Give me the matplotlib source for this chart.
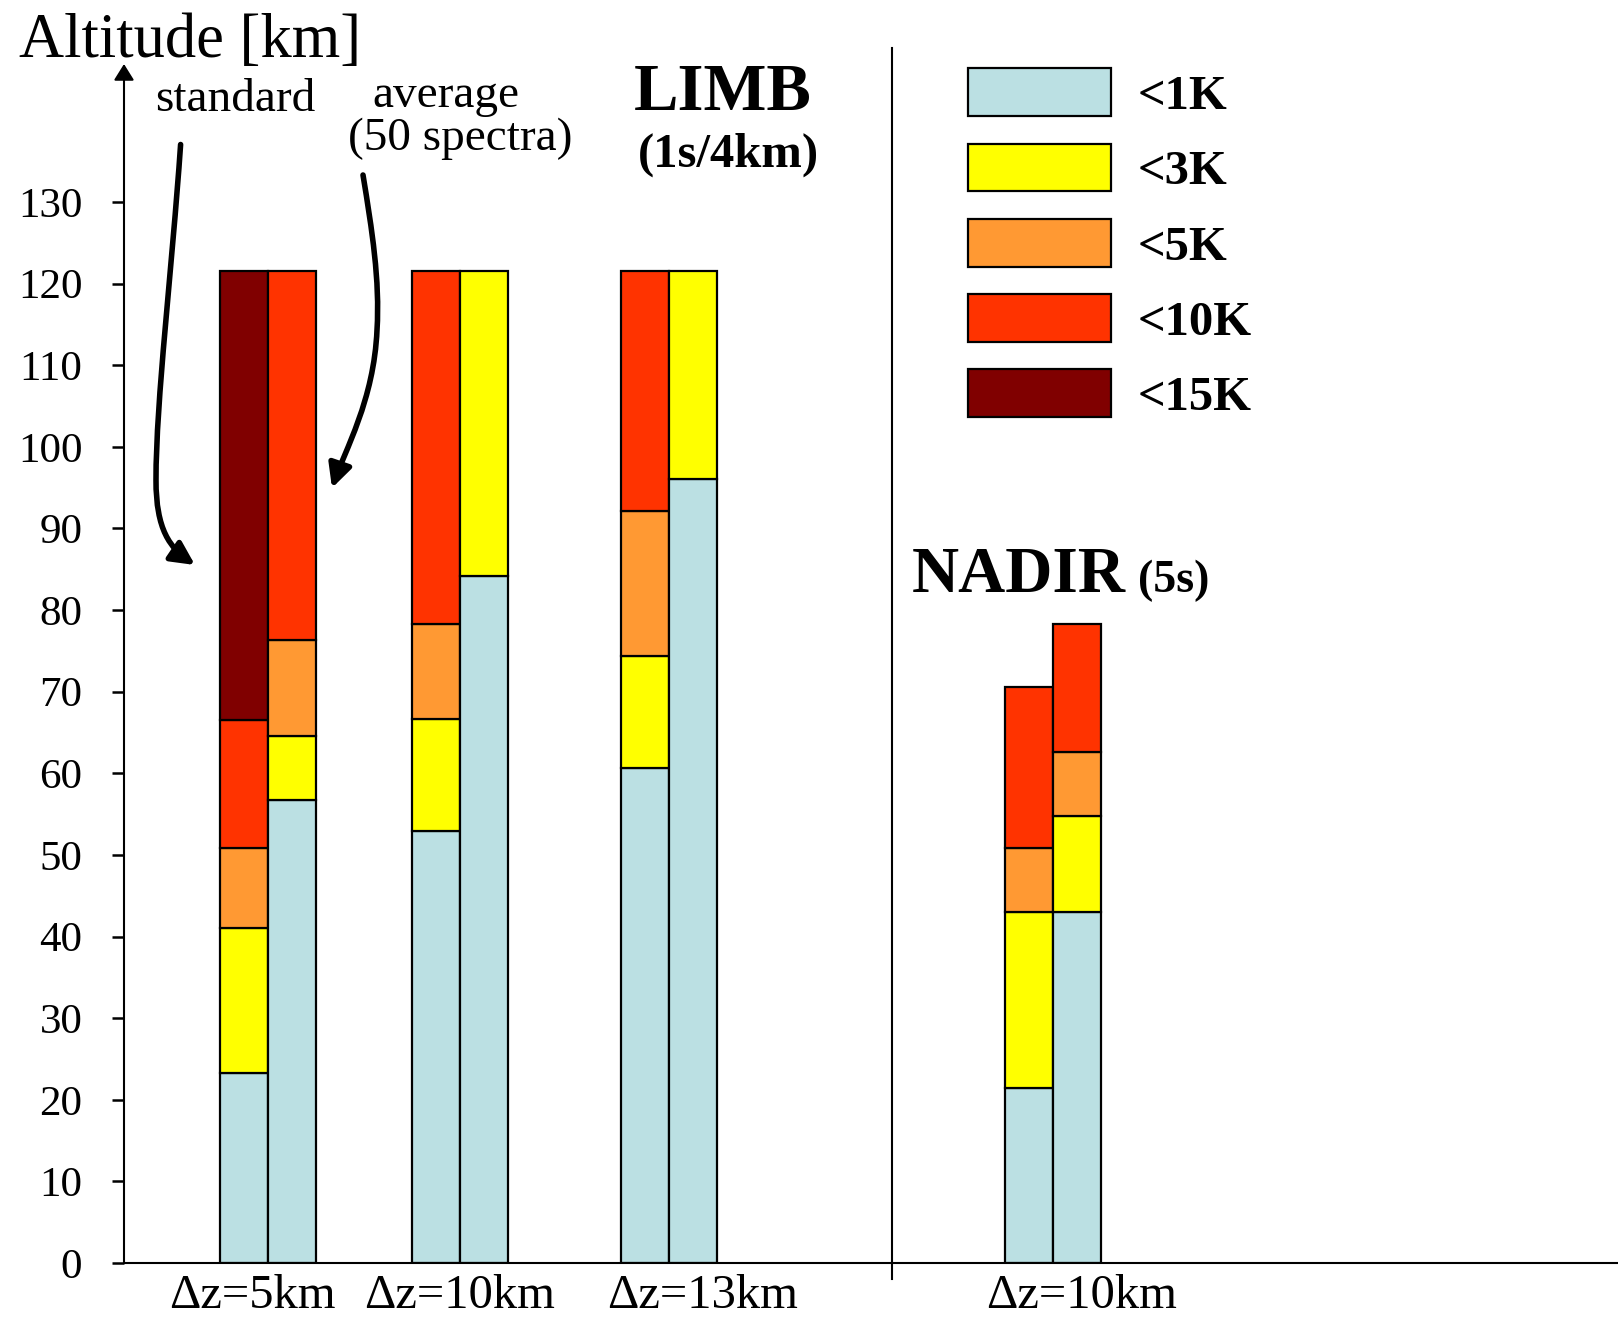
import matplotlib
matplotlib.use("Agg")
import matplotlib.pyplot as plt
from matplotlib.path import Path
from matplotlib.patches import FancyArrowPatch, Rectangle
from matplotlib.transforms import IdentityTransform

plt.rcParams['font.family'] = ['Liberation Serif', 'DejaVu Serif']

W, H = 1618, 1328

# classes (colour legend)
classes = ['<1K', '<3K', '<5K', '<10K', '<15K']
colors = ['#BBE0E3', '#FFFF00', '#FF9933', '#FF3300', '#800000']

# 8 bars: standard / average for limb dz=5,10,13 km and nadir dz=10km
# top altitude (km) reached by each class, per bar
top_1K = [23.3, 56.7, 52.9, 84.2, 60.6, 96.0, 21.5, 43.0]
top_3K = [41.0, 64.6, 66.6, 121.5, 74.4, 121.5, 43.0, 54.8]
top_5K = [50.8, 76.3, 78.3, 121.5, 92.1, 121.5, 50.8, 62.6]
top_10K = [66.5, 121.5, 121.5, 121.5, 121.5, 121.5, 70.6, 78.3]
top_15K = [121.5, 121.5, 121.5, 121.5, 121.5, 121.5, 70.6, 78.3]
tops = [top_1K, top_3K, top_5K, top_10K, top_15K]

bar_x = [2.5, 3.5, 6.5, 7.5, 10.85, 11.85, 18.85, 19.85]
group_labels = ['Δz=5km', 'Δz=10km', 'Δz=13km', 'Δz=10km']
group_label_x = [2.68, 7.0, 12.06, 19.95]

yticks = list(range(0, 140, 10))

fig = plt.figure(figsize=(W / 100, H / 100), dpi=100)
ax = fig.add_axes([124 / W, 65 / H, (W - 124) / W, (1264 - 65) / H])

for i, x in enumerate(bar_x):
    prev = 0
    for k in range(len(classes)):
        h = tops[k][i] - prev
        if h > 0:
            ax.bar(x, h, bottom=prev, width=1.0, color=colors[k],
                   edgecolor='black', linewidth=1.6)
        prev = tops[k][i]

ax.set_xlim(0, (W - 124) / 48)
ax.set_ylim(0, 146.9)

for s in ['top', 'right', 'left']:
    ax.spines[s].set_visible(False)
ax.spines['bottom'].set_linewidth(1.5)

ax.set_yticks(yticks)
ax.set_yticklabels([str(t) for t in yticks], fontsize=31)
ax.tick_params(axis='y', direction='out', length=9, width=1.8, pad=21)
ax.set_xticks(group_label_x)
ax.set_xticklabels(group_labels, fontsize=35)
ax.tick_params(axis='x', length=0, pad=8)

# y axis with arrow head
ax.annotate('', xy=(0, 1), xytext=(0, 0), xycoords='axes fraction',
            arrowprops=dict(arrowstyle='-|>,head_length=0.45,head_width=0.28', lw=1.5,
                            color='black', mutation_scale=22, shrinkA=0, shrinkB=0))

# limb / nadir divider
ax.plot([16, 16], [-2, 148.8], color='black', lw=1.5, clip_on=False)

def fy(y):
    return H - y

fig.text(18.6 / W, fy(57) / H, 'Altitude [km]', fontsize=45, va='baseline')
fig.text(235 / W, fy(111) / H, 'standard', fontsize=34, ha='center', va='baseline')
fig.text(446 / W, fy(107) / H, 'average', fontsize=34, ha='center', va='baseline')
fig.text(460 / W, fy(150) / H, '(50 spectra)', fontsize=34, ha='center', va='baseline')
fig.text(723 / W, fy(110) / H, 'LIMB', fontsize=48, fontweight='bold', ha='center', va='baseline')
fig.text(728 / W, fy(167) / H, '(1s/4km)', fontsize=35, fontweight='bold', ha='center', va='baseline')
fig.text(912 / W, fy(592) / H, 'NADIR', fontsize=47, fontweight='bold', va='baseline')
fig.text(1138 / W, fy(592) / H, '(5s)', fontsize=33, fontweight='bold', va='baseline')

# legend
box_tops = [68, 143.5, 219, 294, 369.5]
for k, name in enumerate(classes):
    fig.patches.append(Rectangle((968 / W, fy(box_tops[k] + 47.5) / H), 143 / W, 47.5 / H,
                                 transform=fig.transFigure, facecolor=colors[k],
                                 edgecolor='black', linewidth=1.6))
    fig.text(1138 / W, fy(box_tops[k] + 41) / H, name, fontsize=35,
             fontweight='bold', va='baseline')

# curved arrows pointing at the bars
def arrow(pts):
    verts = [(x, fy(y)) for x, y in pts]
    codes = [Path.MOVETO] + [Path.CURVE4] * (len(verts) - 1)
    p = FancyArrowPatch(path=Path(verts, codes), arrowstyle='-|>', mutation_scale=35,
                        lw=4, color='black', transform=IdentityTransform())
    fig.patches.append(p)

arrow([(180.6, 144.5), (172, 270), (156, 400), (156, 480),
       (156, 530), (170, 548), (195, 565)])
arrow([(363, 175), (372, 230), (380, 280), (377, 330),
       (374, 400), (345, 450), (332, 488)])

fig.savefig('out.png', dpi=100)
